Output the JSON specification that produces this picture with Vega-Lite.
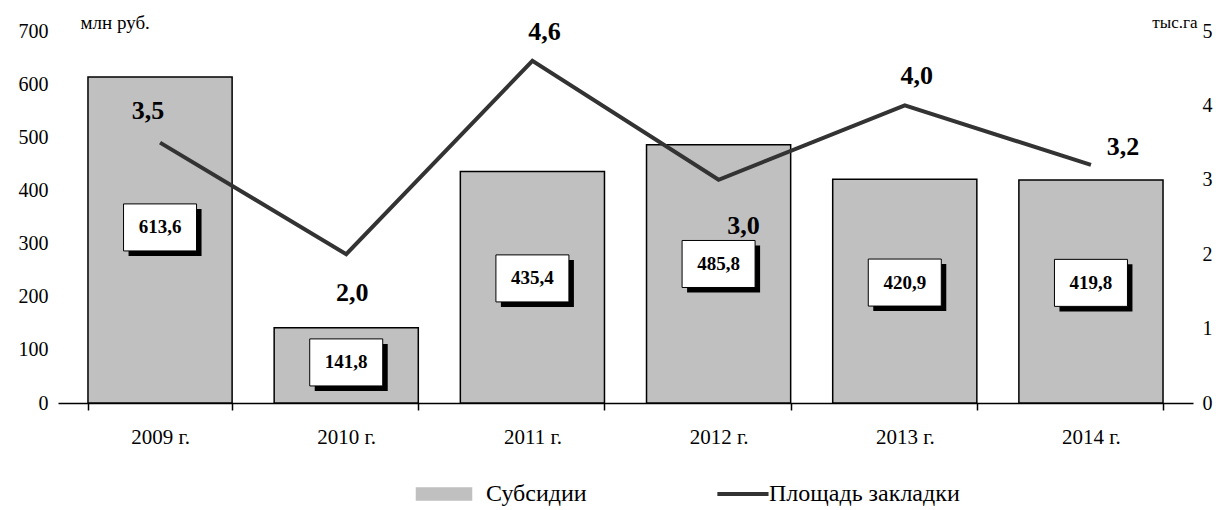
{
  "$schema": "https://vega.github.io/schema/vega-lite/v6.json",
  "width": 1135,
  "height": 372,
  "autosize": {"type": "none"},
  "padding": {"left": 58, "top": 31, "right": 27, "bottom": 107},
  "background": "#ffffff",
  "config": {
    "view": {"stroke": null},
    "locale": {"number": {"decimal": ",", "thousands": " ", "grouping": [3], "currency": ["", ""]}},
    "legend": {
      "orient": "none", "legendX": 374, "legendY": 451, "direction": "horizontal", "title": null,
      "labelFont": "Liberation Serif", "labelFontSize": 24, "labelColor": "#000", "labelLimit": 500,
      "symbolSize": 3025, "labelOffset": 30, "columnPadding": 122, "padding": 0
    }
  },
  "data": {
    "values": [
      {"year": "2009 г.", "subs": 613.6, "area": 3.5},
      {"year": "2010 г.", "subs": 141.8, "area": 2.0},
      {"year": "2011 г.", "subs": 435.4, "area": 4.6},
      {"year": "2012 г.", "subs": 485.8, "area": 3.0},
      {"year": "2013 г.", "subs": 420.9, "area": 4.0},
      {"year": "2014 г.", "subs": 419.8, "area": 3.2}
    ]
  },
  "encoding": {
    "x": {
      "field": "year", "type": "nominal", "sort": null, "title": null,
      "scale": {"paddingInner": 0.2258, "paddingOuter": 0.161},
      "axis": {
        "labelAngle": 0, "labelFont": "Liberation Serif", "labelFontSize": 21, "labelColor": "#000",
        "labelPadding": 16, "tickBand": "extent", "tickSize": 7, "tickColor": "#000", "tickWidth": 1.5,
        "domainColor": "#000", "domainWidth": 1.5, "grid": false
      }
    }
  },
  "layer": [
    {
      "mark": {"type": "bar", "stroke": "#000", "strokeWidth": 1.5},
      "encoding": {
        "y": {
          "field": "subs", "type": "quantitative", "scale": {"domain": [0, 700]},
          "axis": {
            "title": "млн руб.", "titleAngle": 0, "titleAlign": "left", "titleBaseline": "middle",
            "titleX": 22, "titleY": -9, "titleFont": "Liberation Serif", "titleFontSize": 19,
            "titleFontWeight": "normal", "titleColor": "#000",
            "values": [0, 100, 200, 300, 400, 500, 600, 700], "format": "d",
            "domain": false, "ticks": false, "tickSize": 0, "grid": false,
            "labelFont": "Liberation Serif", "labelFontSize": 20, "labelPadding": 10, "labelColor": "#000"
          }
        },
        "color": {
          "datum": "Субсидии",
          "scale": {"domain": ["Субсидии", "Площадь закладки"], "range": ["#c0c0c0", "#333333"]},
          "legend": {
            "encode": {
              "symbols": {
                "update": {
                  "shape": {"signal": "datum.value === 'Субсидии' ? 'M-1,-0.22H1V0.22H-1Z' : 'M-0.35,0H1.51'"},
                  "fill": {"signal": "datum.value === 'Субсидии' ? '#c0c0c0' : 'transparent'"},
                  "stroke": {"signal": "datum.value === 'Субсидии' ? '#000000' : '#333333'"},
                  "strokeWidth": {"signal": "datum.value === 'Субсидии' ? 1.5 : 4"},
                  "strokeOpacity": {"value": 1},
                  "fillOpacity": {"value": 1},
                  "opacity": {"value": 1}
                }
              }
            }
          }
        }
      }
    },
    {
      "encoding": {
        "y": {"field": "subs", "type": "quantitative", "scale": {"domain": [0, 1300]}, "axis": null}
      },
      "layer": [
        {
          "mark": {"type": "point", "shape": "M-1,-0.644H1V0.644H-1Z", "size": 5329, "filled": true,
                   "fill": "#000", "opacity": 1, "strokeWidth": 0, "xOffset": 5, "yOffset": 5}
        },
        {
          "mark": {"type": "point", "shape": "M-1,-0.644H1V0.644H-1Z", "size": 5329, "filled": true,
                   "fill": "#ffffff", "stroke": "#000", "strokeWidth": 1, "opacity": 1}
        },
        {
          "mark": {"type": "text", "font": "Liberation Serif", "fontSize": 19, "fontWeight": "bold", "color": "#000"},
          "encoding": {"text": {"field": "subs", "type": "quantitative", "format": ".1f"}}
        }
      ]
    },
    {
      "encoding": {
        "y": {
          "field": "area", "type": "quantitative", "scale": {"domain": [0, 5]},
          "axis": {
            "orient": "right", "title": "тыс.га", "titleAngle": 0, "titleAlign": "right", "titleBaseline": "middle",
            "titleX": 4, "titleY": -9, "titleFont": "Liberation Serif", "titleFontSize": 17,
            "titleFontWeight": "normal", "titleColor": "#000",
            "values": [0, 1, 2, 3, 4, 5], "format": "d",
            "domain": false, "ticks": false, "tickSize": 0, "grid": false,
            "labelFont": "Liberation Serif", "labelFontSize": 20, "labelPadding": 9, "labelColor": "#000"
          }
        }
      },
      "layer": [
        {
          "mark": {"type": "line", "strokeWidth": 4},
          "encoding": {
            "color": {
              "datum": "Площадь закладки",
              "legend": {
                "encode": {
                  "symbols": {
                    "update": {
                      "shape": {"signal": "datum.value === 'Субсидии' ? 'M-1,-0.22H1V0.22H-1Z' : 'M-0.35,0H1.51'"},
                      "fill": {"signal": "datum.value === 'Субсидии' ? '#c0c0c0' : 'transparent'"},
                      "stroke": {"signal": "datum.value === 'Субсидии' ? '#000000' : '#333333'"},
                      "strokeWidth": {"signal": "datum.value === 'Субсидии' ? 1.5 : 4"},
                      "strokeOpacity": {"value": 1},
                      "fillOpacity": {"value": 1},
                      "opacity": {"value": 1}
                    }
                  }
                }
              }
            }
          }
        },
        {
          "transform": [{"filter": {"field": "year", "equal": "2009 г."}}],
          "mark": {"type": "text", "font": "Liberation Serif", "fontSize": 26, "fontWeight": "bold", "color": "#000", "dy": -32, "dx": -12},
          "encoding": {"text": {"field": "area", "type": "quantitative", "format": ".1f"}}
        },
        {
          "transform": [{"filter": {"field": "year", "oneOf": ["2011 г.", "2013 г."]}}],
          "mark": {"type": "text", "font": "Liberation Serif", "fontSize": 26, "fontWeight": "bold", "color": "#000", "dy": -29, "dx": 12},
          "encoding": {"text": {"field": "area", "type": "quantitative", "format": ".1f"}}
        },
        {
          "transform": [{"filter": {"field": "year", "equal": "2010 г."}}],
          "mark": {"type": "text", "font": "Liberation Serif", "fontSize": 26, "fontWeight": "bold", "color": "#000", "dy": 39, "dx": 6},
          "encoding": {"text": {"field": "area", "type": "quantitative", "format": ".1f"}}
        },
        {
          "transform": [{"filter": {"field": "year", "equal": "2012 г."}}],
          "mark": {"type": "text", "font": "Liberation Serif", "fontSize": 26, "fontWeight": "bold", "color": "#000", "dy": 46, "dx": 25},
          "encoding": {"text": {"field": "area", "type": "quantitative", "format": ".1f"}}
        },
        {
          "transform": [{"filter": {"field": "year", "equal": "2014 г."}}],
          "mark": {"type": "text", "font": "Liberation Serif", "fontSize": 26, "fontWeight": "bold", "color": "#000", "dy": -18, "dx": 32},
          "encoding": {"text": {"field": "area", "type": "quantitative", "format": ".1f"}}
        }
      ]
    }
  ],
  "resolve": {"scale": {"y": "independent"}}
}
